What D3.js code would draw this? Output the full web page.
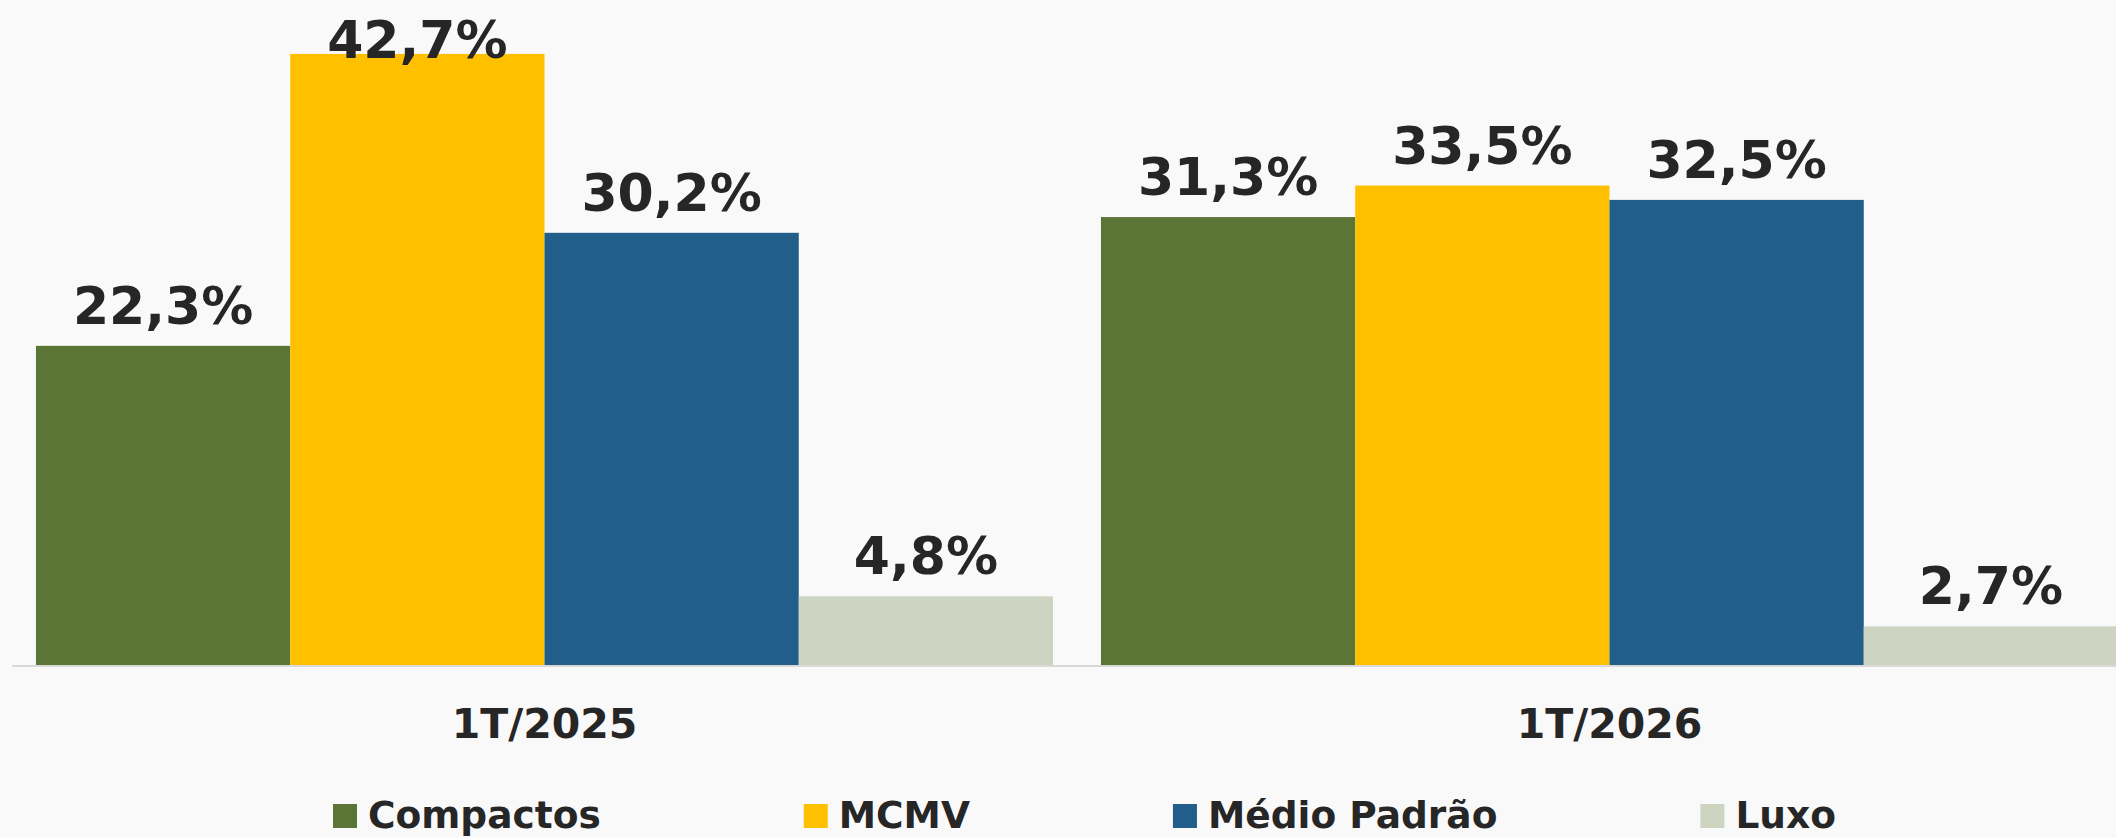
<!DOCTYPE html>
<html>
<head>
<meta charset="utf-8">
<script src="https://cdn.jsdelivr.net/npm/d3@7"></script>
<style>
  html, body { margin: 0; padding: 0; background: #f9f9f9; }
  svg { display: block; font-family: "DejaVu Sans", Verdana, sans-serif; }
</style>
</head>
<body>
<div id="chart"></div>
<script>
var categories = ["1T/2025", "1T/2026"];
var series_names = ["Compactos", "MCMV", "Médio Padrão", "Luxo"];
var series_colors = ["#5b7536", "#ffc000", "#215f8a", "#cdd4c2"];
var compactos = [22.3, 31.3];
var mcmv = [42.7, 33.5];
var medio_padrao = [30.2, 32.5];
var luxo = [4.8, 2.7];
var series_values = [compactos, mcmv, medio_padrao, luxo];

var width_chart = 2116;
var height_chart = 838;
var text_color = "#262626";

var svg_chart = d3.select("#chart").append("svg")
  .attr("width", width_chart)
  .attr("height", height_chart);

svg_chart.append("rect")
  .attr("width", width_chart)
  .attr("height", height_chart)
  .attr("fill", "#f9f9f9");

var x_chart = d3.scaleBand()
  .domain(categories)
  .range([12, 2142])
  .paddingInner(0.045)
  .paddingOuter(0.0225);

var x_inner = d3.scaleBand()
  .domain(series_names)
  .range([0, x_chart.bandwidth()])
  .padding(0);

var y_chart = d3.scaleLinear()
  .domain([0, 45])
  .range([665, 21]);

// flatten into one row per bar
var bar_data = [];
categories.forEach(function (cat, ci) {
  series_names.forEach(function (name, si) {
    bar_data.push({cat: cat, name: name, color: series_colors[si], value: series_values[si][ci]});
  });
});

svg_chart.append("g").selectAll("rect")
  .data(bar_data)
  .enter().append("rect")
  .attr("x", function (d) { return x_chart(d.cat) + x_inner(d.name); })
  .attr("y", function (d) { return y_chart(d.value); })
  .attr("width", x_inner.bandwidth())
  .attr("height", function (d) { return y_chart(0) - y_chart(d.value); })
  .attr("fill", function (d) { return d.color; });

// baseline
svg_chart.append("line")
  .attr("x1", 12).attr("x2", width_chart)
  .attr("y1", y_chart(0) + 1).attr("y2", y_chart(0) + 1)
  .attr("stroke", "#d9d9d9")
  .attr("stroke-width", 2);

// value labels, kept inside the chart like excel does
svg_chart.append("g").selectAll("text")
  .data(bar_data)
  .enter().append("text")
  .attr("x", function (d) { return x_chart(d.cat) + x_inner(d.name) + x_inner.bandwidth() / 2; })
  .attr("y", function (d) { return Math.max(y_chart(d.value) - 22, 58); })
  .attr("text-anchor", "middle")
  .attr("font-size", 52)
  .attr("font-weight", "bold")
  .attr("fill", text_color)
  .text(function (d) { return d.value.toFixed(1).replace(".", ",") + "%"; });

// category axis labels
var axis_chart = svg_chart.append("g")
  .attr("transform", "translate(0," + y_chart(0) + ")")
  .call(d3.axisBottom(x_chart).tickSize(0).tickPadding(0));
axis_chart.select(".domain").remove();
axis_chart.selectAll("text")
  .attr("y", 73)
  .attr("dy", 0)
  .attr("font-family", "DejaVu Sans, Verdana, sans-serif")
  .attr("font-size", 41)
  .attr("font-weight", "bold")
  .attr("fill", text_color);

// legend
var legend_chart = svg_chart.append("g");
var legend_x = 333;
series_names.forEach(function (name, i) {
  var item = legend_chart.append("g").attr("transform", "translate(" + legend_x + ",0)");
  item.append("rect")
    .attr("x", 0).attr("y", 804)
    .attr("width", 24).attr("height", 24)
    .attr("fill", series_colors[i]);
  var t = item.append("text")
    .attr("x", 35).attr("y", 828)
    .attr("font-size", 37.5)
    .attr("font-weight", "bold")
    .attr("fill", text_color)
    .text(name);
  legend_x += 35 + t.node().getComputedTextLength() + 203;
});
</script>
</body>
</html>
